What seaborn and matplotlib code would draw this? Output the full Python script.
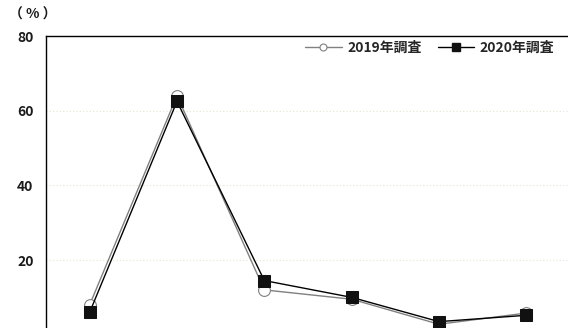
import seaborn as sns
import pandas as pd
import numpy as np
import matplotlib.pyplot as plt
from matplotlib.lines import Line2D

sns.set_theme(style='white')
plt.rcParams['font.family'] = ['Noto Sans CJK JP', 'DejaVu Sans']

items = [1, 2, 3, 4, 5, 6]
survey_2019 = [8.0, 64.0, 12.0, 9.5, 2.8, 5.8]
survey_2020 = [6.0, 62.5, 14.5, 10.0, 3.5, 5.2]
labels = ['2019年調査', '2020年調査']

df = pd.DataFrame({
    'item': items * 2,
    'value': survey_2019 + survey_2020,
    'survey': [labels[0]] * len(items) + [labels[1]] * len(items),
})

fig = plt.figure(figsize=(5.68, 3.28), dpi=100)
ax = fig.add_axes([46 / 568, -6.7 / 328, 524 / 568, 298.7 / 328])

# 2019 first so the 2020 squares sit on top
sns.lineplot(data=df[df['survey'] == labels[0]], x='item', y='value',
             color='#808080', linewidth=1, marker='o', markersize=8.5,
             markerfacecolor='white', markeredgecolor='#808080',
             markeredgewidth=0.8, ax=ax, legend=False)
sns.lineplot(data=df[df['survey'] == labels[1]], x='item', y='value',
             color='black', linewidth=1, marker='s', markersize=9,
             markerfacecolor='#111111', markeredgecolor='#111111',
             ax=ax, legend=False)

ax.set_xlim(0.5, 6.5)
ax.set_ylim(0, 80)
ax.set_yticks([20, 40, 60, 80])
ax.set_yticklabels(['20', '40', '60', '80'], fontsize=10, color='#1a1a1a',
                   fontweight='bold')
ax.set_xticks([])
ax.set_xlabel('')
ax.set_ylabel('')
ax.tick_params(axis='y', length=0, pad=9)
ax.yaxis.grid(True, linestyle=(0, (1, 2)), color='#e4e4d4', linewidth=0.8)

for side in ['left', 'top']:
    ax.spines[side].set_color('black')
    ax.spines[side].set_linewidth(1)
ax.spines['right'].set_visible(False)
ax.spines['bottom'].set_visible(False)

fig.text(9 / 568, 1 - 15 / 328, '（ % ）', fontsize=10, color='#1a1a1a',
         va='center', ha='left', fontweight='bold')

handles = [
    Line2D([], [], color='#808080', linewidth=1, marker='o', markersize=5,
           markerfacecolor='white', markeredgecolor='#808080', markeredgewidth=0.8),
    Line2D([], [], color='black', linewidth=1, marker='s', markersize=5.5,
           markerfacecolor='#111111', markeredgecolor='#111111'),
]
fig.legend(handles, labels, loc='center right',
           bbox_to_anchor=(560 / 568, 1 - 48 / 328), ncol=2, frameon=False,
           prop={'size': 10, 'weight': 'bold'}, handlelength=2.6,
           handletextpad=0.4, columnspacing=1.2, borderaxespad=0)

fig.savefig('out.png', dpi=100)
